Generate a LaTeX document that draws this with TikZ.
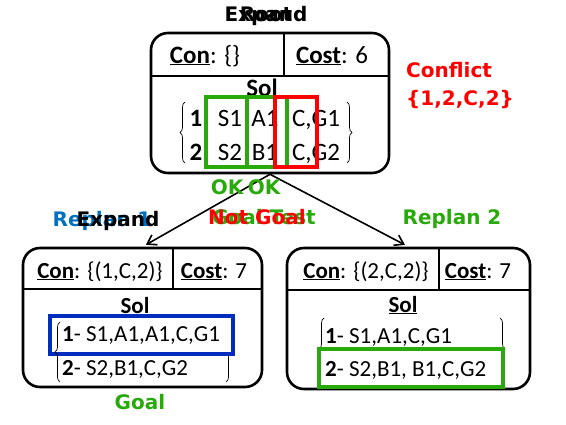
\documentclass[tikz,border=0pt]{standalone}
\usepackage{fontspec}
\setmainfont{Carlito}
\newfontfamily\tagfont{DejaVu Sans}
\usetikzlibrary{arrows.meta,calc,decorations.pathreplacing}
\definecolor{okgreen}{RGB}{40,170,10}
\definecolor{solblue}{RGB}{0,45,190}
\definecolor{planblue}{RGB}{0,112,192}
\tikzset{
 cbox/.style={draw,line width=2.6pt,rounded corners=17pt,inner sep=0},
 divide/.style={line width=2.4pt},
 branch/.style={line width=1.6pt,-{Straight Barb[length=3mm,width=4mm]},shorten >=4pt},
 hilite/.style={line width=4pt},
 bracket/.style={decorate,decoration={brace,amplitude=5pt},line width=.7pt},
 tag/.style={font=\tagfont\bfseries\fontsize{20}{20}\selectfont,inner sep=0,anchor=base},
 toptext/.style={font=\fontsize{25}{25}\selectfont,inner sep=0,anchor=base},
 subtext/.style={font=\fontsize{23}{23}\selectfont,inner sep=0,anchor=base}
}
\begin{document}
\begin{tikzpicture}[x=1pt,y=-1pt]
\path[use as bounding box] (0,0) rectangle (566,424);
\node[cbox,minimum width=238pt,minimum height=140pt] (root) at (270,103) {};
\node[cbox,minimum width=239pt,minimum height=139pt] (replanA) at (142.5,317.5) {};
\node[cbox,minimum width=243pt,minimum height=141pt] (replanB) at (408.5,318.5) {};
\coordinate (rootcut) at (284,76);
\coordinate (Acut) at (173,289);
\coordinate (Bcut) at (439,290);
\draw[divide] (root.west |- rootcut) -- (root.east |- rootcut);
\draw[divide] (root.north -| rootcut) -- (rootcut);
\draw[divide] (replanA.west |- Acut) -- (replanA.east |- Acut);
\draw[divide] (replanA.north -| Acut) -- (Acut);
\draw[divide] (replanB.west |- Bcut) -- (replanB.east |- Bcut);
\draw[divide] (replanB.north -| Bcut) -- (Bcut);
\draw[branch] (root.south) -- (replanA.north);
\draw[branch] (root.south) -- (replanB.north);
\node[toptext] (rootcon) at (205,63) {\underline{\textbf{Con}}: \{\}};
\node[toptext] (rootcost) at (332,63) {\underline{\textbf{Cost}}: 6};
\node[toptext] (rootsol) at (262,96) {\underline{\textbf{Sol}}};
\draw[bracket] (185,163) -- (185,102);
\draw[bracket] (347,102) -- (347,163);
\node[toptext] (rowAn) at (196,126) {\textbf{1}};
\node[toptext] (rowAs) at (230,126) {S1};
\node[toptext] (rowAa) at (265,126) {A1};
\node[toptext] (rowAg) at (316,126) {C,G1};
\node[toptext] (rowBn) at (196,160) {\textbf{2}};
\node[toptext] (rowBs) at (230,160) {S2};
\node[toptext] (rowBa) at (265,160) {B1};
\node[toptext] (rowBg) at (316,160) {C,G2};
\draw[hilite,okgreen] (206,97) rectangle (247,167);
\draw[hilite,okgreen] (247,97) rectangle (287,167);
\draw[hilite,red] (275,97) rectangle (317,167);
\node[subtext] (Acon) at (100,278) {\underline{\textbf{Con}}: \{(1,C,2)\}};
\node[subtext] (Acost) at (214,278) {\underline{\textbf{Cost}}: 7};
\node[subtext] (Asol) at (135,313) {\textbf{Sol}};
\draw[bracket] (226,322) -- (226,382);
\draw[hilite,solblue,fill=white] (50,316) rectangle (233,354);
\draw[bracket] (60,382) -- (60,322);
\node[subtext,anchor=base west] (Arow1) at (62,341) {\textbf{1}- S1,A1,A1,C,G1};
\node[subtext,anchor=base west] (Arow2) at (62,375) {\textbf{2}- S2,B1,C,G2};
\node[subtext] (Bcon) at (366,278) {\underline{\textbf{Con}}: \{(2,C,2)\}};
\node[subtext] (Bcost) at (478,278) {\underline{\textbf{Cost}}: 7};
\node[subtext] (Bsol) at (403,312) {\underline{\textbf{Sol}}};
\draw[bracket] (324,380) -- (324,318);
\draw[bracket] (500,318) -- (500,380);
\draw[hilite,okgreen,fill=white] (319,349) rectangle (503,387);
\node[subtext,anchor=base west] (Brow1) at (325,343) {\textbf{1}- S1,A1,C,G1};
\node[subtext,anchor=base west] (Brow2) at (325,376) {\textbf{2}- S2,B1, B1,C,G2};
\node[tag] (expandtop) at (266,21) {Expand};
\node[tag] (roottag) at (266,21) {Root};
\node[tag,anchor=base west,text=red] (conflict) at (406,77) {Conflict};
\node[tag,anchor=base west,text=red] (conflictset) at (406,105) {\{1,2,C,2\}};
\node[tag,text=okgreen] (okA) at (227,194) {OK};
\node[tag,text=okgreen] (okB) at (264,194) {OK};
\node[tag,text=planblue] (replanAtag) at (102,226) {Replan 1};
\node[tag] (expandA) at (118,226) {Expand};
\node[tag,text=okgreen] (goaltest) at (264,224) {Goal Test};
\node[tag,text=red] (notgoal) at (257,224) {Not Goal};
\node[tag,text=okgreen] (replanBtag) at (452,224) {Replan 2};
\node[tag,text=okgreen] (goal) at (140,409) {Goal};
\end{tikzpicture}
\end{document}
